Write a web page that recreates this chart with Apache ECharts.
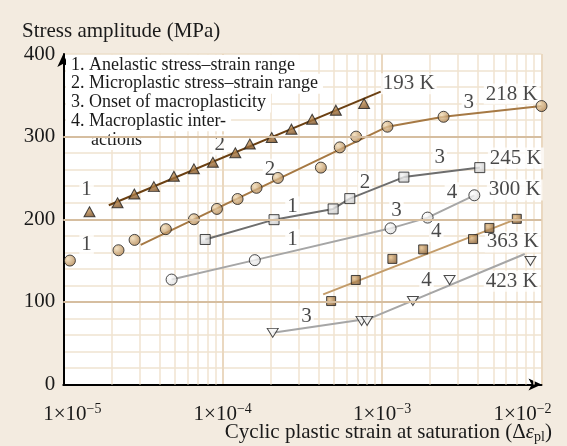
<!DOCTYPE html>
<html><head><meta charset="utf-8">
<script src="https://cdn.jsdelivr.net/npm/echarts@6/dist/echarts.min.js"></script>
<style>html,body{margin:0;padding:0;background:#f3ebe0;} #c{width:567px;height:446px;}</style>
</head><body><div id="c"></div>
<script>
const SERIF = '"Liberation Serif","Times New Roman",Times,serif';

// ---- data (x: cyclic plastic strain, y: stress amplitude MPa) ----
const points193 = [[1.46e-5,209],[2.19e-5,220],[2.79e-5,230.5],[3.70e-5,239.5],[4.94e-5,252],[6.60e-5,261],[8.68e-5,269],[1.20e-4,280.5],[1.48e-4,291],[2.03e-4,299],[2.70e-4,309],[3.64e-4,321],[5.13e-4,332],[7.71e-4,340]];
const line193 = [[1.93e-5,217],[9.8e-4,354.5]];
const points218 = [[1.10e-5,150],[2.22e-5,162.5],[2.80e-5,175],[4.40e-5,188],[6.60e-5,200],[9.20e-5,212.5],[1.24e-4,224.5],[1.63e-4,238],[2.22e-4,250],[4.13e-4,262.5],[5.43e-4,287],[6.87e-4,300],[1.08e-3,312],[2.43e-3,324],[1.0e-2,337]];
const line218 = [[3.06e-5,169],[1.08e-3,312],[2.43e-3,324],[1.0e-2,337]];
const points245 = [[7.77e-5,175.5],[2.10e-4,199.5],[4.93e-4,212.5],[6.27e-4,225],[1.37e-3,251],[4.10e-3,262.5]];
const points300 = [[4.78e-5,127],[1.59e-4,150.5],[1.13e-3,189],[1.93e-3,202],[3.79e-3,229]];
const points363 = [[4.79e-4,101],[6.84e-4,126.5],[1.16e-3,152],[1.81e-3,163.5],[3.72e-3,176],[4.71e-3,189.5],[7.00e-3,200.5]];
const line363 = [[4.27e-4,109],[7.00e-3,200.5]];
const points423 = [[2.06e-4,62.5],[7.43e-4,77],[8.05e-4,77],[1.56e-3,101],[2.65e-3,126.5],[8.52e-3,149.5]];
const line423 = [[2.06e-4,62.5],[8.4e-4,80],[7.85e-3,158]];

const tempLabels = [['193 K',1.47e-3,364],['218 K',6.5e-3,351.5],['245 K',6.9e-3,274],['300 K',6.8e-3,235.5],['363 K',6.6e-3,172.5],['423 K',6.5e-3,125]];
const regimeLabels = [['1',1.40e-5,236],['1',1.40e-5,169],['2',9.6e-5,290],['2',1.98e-4,260.5],['3',3.5e-3,341],['1',2.74e-4,215],['2',7.8e-4,244],['3',2.3e-3,275],['1',2.74e-4,175],['3',1.23e-3,211],['4',2.74e-3,232],['4',2.19e-3,185],['4',1.9e-3,126],['3',3.36e-4,82]];
const notes = ['1. Anelastic stress\u2013strain range','2. Microplastic stress\u2013strain range','3. Onset of macroplasticity','4. Macroplastic inter-','actions'];
const yTicks = [0,100,200,300,400];
const yTitle = 'Stress amplitude (MPa)';
const xTitle = 'Cyclic plastic strain at saturation (\u0394{i|\u03b5}{sub|pl})';

// ---- helpers ----
function grad(a,b){return {type:'radial',x:0.35,y:0.35,r:0.75,colorStops:[{offset:0,color:a},{offset:1,color:b}]};}
function lineS(data,color){return {type:'line',data,symbol:'none',showSymbol:false,lineStyle:{color,width:2},z:3,silent:true,animation:false};}
function ptS(data,symbol,size,fill,rot){return {type:'scatter',data,symbol,symbolSize:size,symbolRotate:rot||0,itemStyle:{color:fill,borderColor:'#1e1e1e',borderWidth:1},z:4,silent:true,animation:false};}
const yMin = yTicks[0], yMax = yTicks[yTicks.length-1];
const minorX=[];for(let d=-5;d<-2;d++){for(let m=2;m<=9;m++){const v=m*Math.pow(10,d);minorX.push({coords:[[v,yMin],[v,yMax]]});}}

const chart = echarts.init(document.getElementById('c'),null,{renderer:'canvas',width:567,height:446});
const FS = 21;
const baseRich = {
  b:{fontSize:FS,fontFamily:SERIF,color:'#1a1a1a',lineHeight:24,verticalAlign:'middle'},
  b0:{fontSize:FS,fontFamily:SERIF,color:'#1a1a1a',lineHeight:24,verticalAlign:'middle',padding:[0,0,0,18]},
  s:{fontSize:14,fontFamily:SERIF,color:'#1a1a1a',lineHeight:24,verticalAlign:'top'},
  s3:{fontSize:14,fontFamily:SERIF,color:'#1a1a1a',lineHeight:24,verticalAlign:'top',padding:[0,38,0,0]}
};
chart.setOption({
  backgroundColor:'#f3ebe0',
  animation:false,
  title:[
    {text:yTitle,left:22,top:21,padding:0,textStyle:{fontSize:FS,fontWeight:'normal',fontFamily:SERIF,color:'#1a1a1a'}},
    {text:xTitle,right:15,top:420,padding:0,textStyle:{fontSize:FS,fontWeight:'normal',fontFamily:SERIF,color:'#1a1a1a',lineHeight:24,
      rich:{i:{fontSize:FS,fontStyle:'italic',fontFamily:SERIF,color:'#1a1a1a',lineHeight:24},sub:{fontSize:14,fontFamily:SERIF,color:'#1a1a1a',lineHeight:24,verticalAlign:'bottom'}}}}
  ],
  grid:{left:63.3,right:25.5,top:54,bottom:61.5,show:true,backgroundColor:'#ffffff',borderWidth:0,outerBoundsMode:'none',containLabel:false},
  xAxis:{type:'log',logBase:10,min:1e-5,max:1e-2,
    axisLine:{show:true,symbol:['none','arrow'],symbolSize:[9,13],lineStyle:{color:'#000',width:2}},
    axisTick:{show:false},
    splitLine:{show:true,lineStyle:{color:'#ead8c0',width:2}},
    axisLabel:{margin:18,formatter:function(v){const e=Math.round(Math.log10(v));const bs=e===-5?'b0':'b';const ss=e===-2?'s3':'s';return '{'+bs+'|1\u00d710}{'+ss+'|\u2212'+(-e)+'}';},rich:baseRich}
  },
  yAxis:{type:'value',min:yMin,max:yMax,interval:100,
    axisLine:{show:true,symbol:['none','arrow'],symbolSize:[9,13],lineStyle:{color:'#000',width:2}},
    axisTick:{show:false},
    minorTick:{show:false,splitNumber:5},
    minorSplitLine:{show:true,lineStyle:{color:'#f0e3d1',width:1.5}},
    splitLine:{show:true,lineStyle:{color:'#eddfcb',width:1.5}},
    axisLabel:{margin:8,fontSize:FS,fontFamily:SERIF,color:'#1a1a1a'}
  },
  graphic:{elements:notes.map((t,i)=>({type:'text',x:(i===4?86:66),y:65+i*18.75,z:1.5,silent:true,
    style:{text:t,font:'18px '+SERIF,fill:'#1a1a1a',verticalAlign:'middle',backgroundColor:'#ffffff',padding:[1,5,1,5]}}))},
  series:[
    {type:'lines',coordinateSystem:'cartesian2d',z:1,silent:true,animation:false,polyline:false,effect:{show:false},
      lineStyle:{color:'#f0e3d1',width:1.5,opacity:1,curveness:0},data:minorX},
    {type:'line',data:[],z:1,silent:true,markLine:{silent:true,symbol:'none',animation:false,label:{show:false},lineStyle:{color:'#d6bea0',width:2,type:'solid'},emphasis:{disabled:true},data:yTicks.slice(1,-1).map(v=>({yAxis:v}))}},
    {type:'scatter',z:2.5,silent:true,symbolSize:1,itemStyle:{color:'rgba(0,0,0,0)'},
      data:tempLabels.concat(regimeLabels).map(a=>({value:[a[1],a[2]],name:a[0]})),
      label:{show:true,position:'inside',formatter:p=>p.name,fontSize:FS,fontFamily:SERIF,color:'#1a1a1a',backgroundColor:'#ffffff',padding:[0,2]}},
    lineS(line193,'#6b4012'),
    lineS(line218,'#a67944'),
    lineS(points245,'#6e6e6e'),
    lineS(points300,'#a6a6a6'),
    lineS(line363,'#c39c6a'),
    lineS(line423,'#a6a6a6'),
    ptS(points193,'triangle',[11,10],grad('#c8965a','#6e4318')),
    ptS(points218,'circle',11,grad('#f2dcb6','#a97a44')),
    ptS(points245,'rect',10,grad('#f6f6f6','#c2c2c2')),
    ptS(points300,'circle',11,grad('#ffffff','#d8d8d8')),
    ptS(points363,'rect',9,grad('#e4bc84','#7a5024')),
    ptS(points423,'triangle',[11,9],'#f6f6f6',180)
  ]
});
</script></body></html>
